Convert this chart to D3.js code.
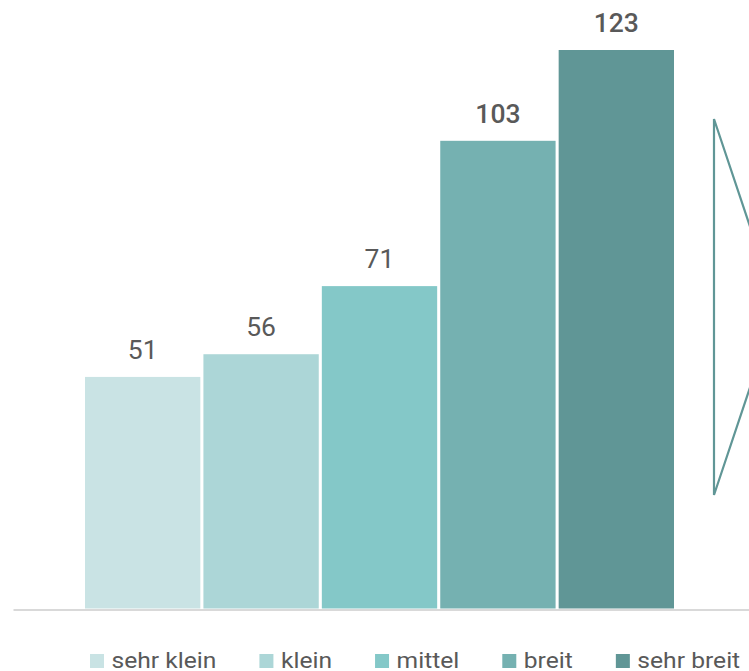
<!DOCTYPE html>
<html>
<head>
<meta charset="utf-8">
<script src="https://cdn.jsdelivr.net/npm/d3@7/dist/d3.min.js"></script>
<style>
  html, body { margin: 0; padding: 0; background: #fff; overflow: hidden; }
  svg { display: block; font-family: Roboto, "Noto Sans", sans-serif; }
</style>
</head>
<body>
<svg id="chart" width="749" height="671"></svg>
<script>
// Categories and their counts
const categories = ["sehr klein", "klein", "mittel", "breit", "sehr breit"];
const values = [51, 56, 71, 103, 123];
const palette = ["#c9e3e4", "#acd6d7", "#84c8c8", "#75b1b1", "#609696"];

const W = 749, H = 671;
const svg = d3.select("#chart");

const x = d3.scaleBand()
  .domain(categories)
  .range([85, 674])
  .paddingInner(0.026)
  .paddingOuter(0);

const y = d3.scaleLinear()
  .domain([0, 123])
  .range([608.5, 50]);

const color = d3.scaleOrdinal().domain(categories).range(palette);

// Bars
svg.append("g")
  .selectAll("rect")
  .data(categories)
  .join("rect")
  .attr("x", d => x(d))
  .attr("y", (d, i) => y(values[i]))
  .attr("width", x.bandwidth())
  .attr("height", (d, i) => y(0) - y(values[i]))
  .attr("fill", d => color(d));

// Baseline axis
const axis = svg.append("g")
  .attr("transform", `translate(0,${y(0) + 1})`)
  .call(d3.axisBottom(d3.scaleLinear().range([13, W])).ticks(0).tickSize(0).tickFormat(""));
axis.select(".domain").attr("stroke", "#d9d9d9").attr("stroke-width", 2);

// Value labels above bars; the two widest groups are emphasised
svg.append("g")
  .selectAll("g")
  .data(categories)
  .join("g")
  .attr("transform", (d, i) => `translate(${x(d) + x.bandwidth() / 2},${y(values[i]) - 18}) scale(1.06,1)`)
  .append("text")
  .attr("text-anchor", "middle")
  .attr("font-size", 25)
  .attr("font-weight", (d, i) => values[i] > 100 ? 500 : 400)
  .attr("fill", "#595959")
  .text((d, i) => values[i]);

// Outlined pointer shape at the right edge
const tri = d3.scaleLinear().domain([0, 1]).range([119, 495]);
svg.append("path")
  .attr("d", d3.line()([[714, tri(0)], [777, tri(0.5)], [714, tri(1)]]) + "Z")
  .attr("fill", "none")
  .attr("stroke", "#609696")
  .attr("stroke-width", 2.2)
  .attr("stroke-linejoin", "miter");

// Legend
const sx = 1.12;
const legend = svg.append("g").attr("transform", "translate(90,0)");
let cx = 0;
categories.forEach((c, i) => {
  const g = legend.append("g").attr("transform", `translate(${cx},0)`);
  g.append("rect")
    .attr("x", 0).attr("y", 654)
    .attr("width", 14).attr("height", 14)
    .attr("fill", color(c));
  const t = g.append("g")
    .attr("transform", `translate(21.5,668) scale(${sx},1)`)
    .append("text")
    .attr("font-size", 22)
    .attr("fill", "#595959")
    .text(c);
  const w = t.node().getComputedTextLength() * sx;
  cx += 21.5 + w + 43;
});
</script>
</body>
</html>
